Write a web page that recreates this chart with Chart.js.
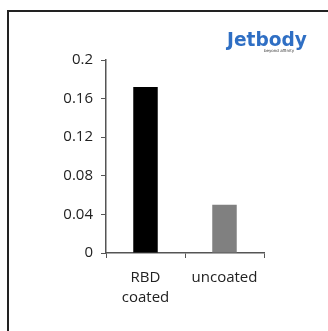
<!DOCTYPE html>
<html>
<head>
<meta charset="utf-8">
<script src="https://cdn.jsdelivr.net/npm/chart.js@4"></script>
<style>
html,body{margin:0;padding:0;background:#fff;}
#wrap{position:relative;width:328px;height:331px;}
</style>
</head>
<body>
<div id="wrap"><canvas id="c" width="328" height="331"></canvas></div>
<script>
const categories = [['RBD', 'coated'], 'uncoated'];
const values = [0.172, 0.050];
const barColors = ['#000000', '#808080'];
const yTickLabels = ['0', '0.04', '0.08', '0.12', '0.16', '0.2'];
const logoText = 'Jetbody';
const logoSub = 'beyond affinity';

const framePlugin = {
  id: 'frame',
  afterDraw(chart) {
    const ctx = chart.ctx;
    ctx.save();
    ctx.strokeStyle = '#222';
    ctx.lineWidth = 2;
    ctx.beginPath();
    ctx.moveTo(8, 331);
    ctx.lineTo(8, 11);
    ctx.lineTo(328, 11);
    ctx.stroke();
    // logo
    ctx.fillStyle = '#2f6fc4';
    ctx.font = 'bold 20px "DejaVu Sans"';
    ctx.textBaseline = 'alphabetic';
    ctx.textAlign = 'left';
    ctx.save();
    ctx.translate(227, 46);
    ctx.scale(0.93, 1);
    ctx.fillText(logoText, 0, 0);
    ctx.restore();
    ctx.fillStyle = '#333';
    ctx.font = '4px "DejaVu Sans"';
    ctx.fillText(logoSub, 264, 52);
    ctx.restore();
  }
};

new Chart(document.getElementById('c'), {
  type: 'bar',
  data: {
    labels: categories,
    datasets: [{
      data: values,
      backgroundColor: barColors,
      borderWidth: 0,
      categoryPercentage: 1,
      barPercentage: 0.31
    }]
  },
  options: {
    responsive: false,
    animation: false,
    devicePixelRatio: 1,
    layout: { padding: { left: 41, right: 64, top: 60, bottom: 19 } },
    plugins: { legend: { display: false }, tooltip: { enabled: false } },
    scales: {
      x: {
        offset: true,
        grid: { display: true, drawOnChartArea: false, drawTicks: true, tickLength: 5, offset: true, color: '#555', lineWidth: 1 },
        border: { display: true, color: '#555', width: 1.5 },
        ticks: { color: '#222', font: { family: '"Open Sans"', size: 15, lineHeight: 1.3 }, padding: 10, maxRotation: 0, autoSkip: false },
        afterFit(scale) { scale.height = 59; }
      },
      y: {
        min: 0, max: 0.2,
        grid: { display: true, drawOnChartArea: false, drawTicks: true, tickLength: 5, color: '#555', lineWidth: 1 },
        border: { display: true, color: '#555', width: 1.5 },
        ticks: {
          stepSize: 0.04,
          color: '#222',
          font: { family: '"Open Sans"', size: 15 },
          padding: 8,
          callback: (v, i) => yTickLabels[i]
        },
        afterFit(scale) { scale.width = 65; }
      }
    }
  },
  plugins: [framePlugin]
});
</script>
</body>
</html>
